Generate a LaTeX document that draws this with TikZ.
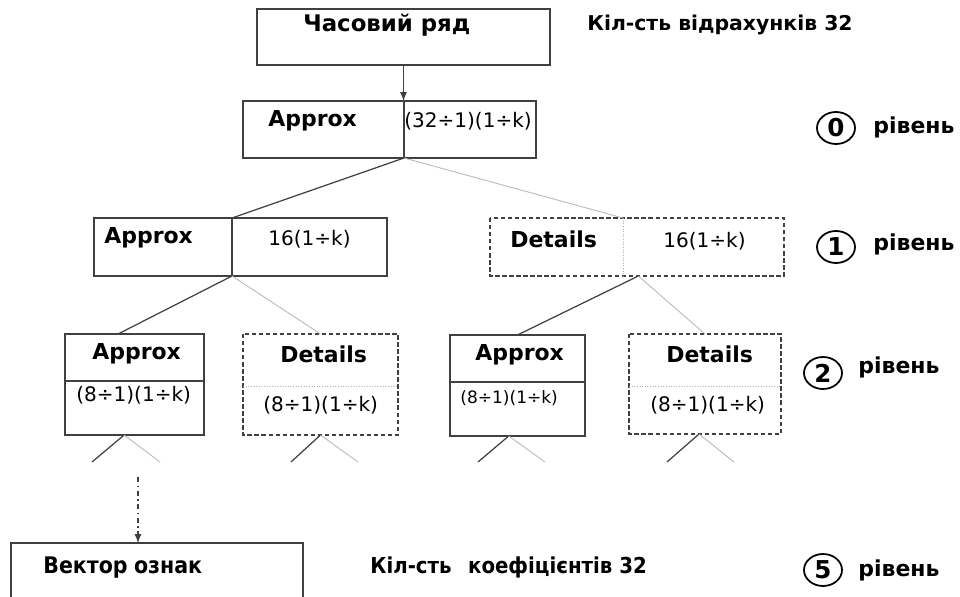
\documentclass[tikz,border=0pt]{standalone}
\usepackage{fontspec}
\setmainfont{DejaVu Sans}
\newfontfamily\narrowfont[FakeStretch=0.9]{DejaVu Sans}
\usetikzlibrary{arrows.meta,shapes.geometric}

\tikzset{
	cell/.style n args={2}{minimum width=#1*0.02cm, minimum height=#2*0.02cm, inner sep=0pt, outer sep=0pt},
	frame/.style={draw=black!75, line width=0.7pt},
	dframe/.style={draw=black!75, line width=0.7pt, dash pattern=on 2.5pt off 1.5pt},
	split/.style={draw=black!30, line width=0.5pt, densely dotted},
	tree/.style={draw=black!75, line width=0.7pt},
	ghost/.style={draw=black!28, line width=0.5pt},
	word/.style={font=\bfseries\fontsize{12.5}{14}\selectfont, inner sep=0pt, anchor=base west},
	narrow/.style={font=\narrowfont\bfseries\fontsize{12.5}{14}\selectfont, inner sep=0pt, anchor=base west},
	coef/.style={font=\fontsize{11.4}{13}\selectfont, inner sep=0pt, anchor=base west},
	lvl/.style={ellipse, draw, line width=1pt, inner sep=0pt, minimum width=38*0.02cm, minimum height=32*0.02cm, font=\bfseries\fontsize{14}{16}\selectfont},
}

\begin{document}
	\begin{tikzpicture}[x=0.02cm,y=-0.02cm]
		
		\clip (0,0) rectangle (960,597);
		
		
		% time series
		\node[cell={293}{56}, anchor=north west, frame] (ts) at (257,9) {};
		\node[word, font=\bfseries\fontsize{13}{15}\selectfont] (tstxt) at (303,32) {Часовий ряд};
		\node[word, font=\bfseries\fontsize{11.6}{14}\selectfont] (ntxt) at (587,31) {Кіл-сть відрахунків 32};
		
		
		% level 0
		\node[cell={161}{57}, anchor=north west] (a0l) at (243,101) {};
		\node[cell={132}{57}, anchor=north west] (a0r) at (a0l.north east) {};
		\draw[frame] (a0l.north west) rectangle (a0r.south east);
		\draw[frame] (a0l.north east) -- (a0l.south east);
		\node[word] (a0txt) at (268,127) {Approx};
		\node[coef] (a0num) at (404,128) {(32÷1)(1÷k)};
		
		\draw[tree,-{Latex[length=5pt,width=4pt]}] (ts.south) -- (ts.south |- a0l.north);
		
		
		% level 1
		\node[cell={138}{58}, anchor=north west] (a1l) at (94,218) {};
		\node[cell={155}{58}, anchor=north west] (a1r) at (a1l.north east) {};
		\draw[frame] (a1l.north west) rectangle (a1r.south east);
		\draw[frame] (a1l.north east) -- (a1l.south east);
		\node[word] (a1txt) at (104,244) {Approx};
		\node[coef] (a1num) at (268,246) {16(1÷k)};
		
		\node[cell={133}{58}, anchor=north west] (d1l) at (490,218) {};
		\node[cell={161}{58}, anchor=north west] (d1r) at (d1l.north east) {};
		\draw[dframe] (d1l.north west) rectangle (d1r.south east);
		\draw[split] (d1l.north east) -- (d1l.south east);
		\node[word] (d1txt) at (510,248) {Details};
		\node[coef] (d1num) at (663,248) {16(1÷k)};
		
		\draw[tree] (a0l.south east) -- (a1l.north east);
		\draw[ghost] (a0l.south east) -- (d1l.north east);
		
		
		% level 2
		\node[cell={139}{47}, anchor=north west] (a2at) at (65,334) {};
		\node[cell={139}{54}, anchor=north west] (a2ab) at (a2at.south west) {};
		\draw[frame] (a2at.north west) rectangle (a2ab.south east);
		\draw[frame] (a2at.south west) -- (a2at.south east);
		\node[word] (a2atxt) at (92,360) {Approx};
		\node[coef] (a2anum) at (76,402) {(8÷1)(1÷k)};
		
		\node[cell={155}{52}, anchor=north west] (d2at) at (243,334) {};
		\node[cell={155}{49}, anchor=north west] (d2ab) at (d2at.south west) {};
		\draw[dframe] (d2at.north west) rectangle (d2ab.south east);
		\draw[split] (d2at.south west) -- (d2at.south east);
		\node[word] (d2atxt) at (280,363) {Details};
		\node[coef] (d2anum) at (263,412) {(8÷1)(1÷k)};
		
		\node[cell={135}{47}, anchor=north west] (a2bt) at (450,335) {};
		\node[cell={135}{54}, anchor=north west] (a2bb) at (a2bt.south west) {};
		\draw[frame] (a2bt.north west) rectangle (a2bb.south east);
		\draw[frame] (a2bt.south west) -- (a2bt.south east);
		\node[word] (a2btxt) at (475,361) {Approx};
		\node[coef, font=\fontsize{9.7}{11}\selectfont] (a2bnum) at (460,404) {(8÷1)(1÷k)};
		
		\node[cell={152}{52}, anchor=north west] (d2bt) at (629,334) {};
		\node[cell={152}{48}, anchor=north west] (d2bb) at (d2bt.south west) {};
		\draw[dframe] (d2bt.north west) rectangle (d2bb.south east);
		\draw[split] (d2bt.south west) -- (d2bt.south east);
		\node[word] (d2btxt) at (666,363) {Details};
		\node[coef] (d2bnum) at (650,412) {(8÷1)(1÷k)};
		
		\draw[tree] (a1l.south east) -- (a2at.125);
		\draw[ghost] (a1l.south east) -- (d2at.north);
		\draw[tree] (d1r.204) -- (a2bt.north);
		\draw[ghost] (d1r.204) -- (d2bt.north);
		
		
		% stubs below level 2
		\coordinate (s1) at (92,462);
		\coordinate (s2) at (160,462);
		\coordinate (s3) at (291,462);
		\coordinate (s4) at (358,462);
		\coordinate (s5) at (478,462);
		\coordinate (s6) at (545,462);
		\coordinate (s7) at (667,462);
		\coordinate (s8) at (734,462);
		
		\draw[tree] (a2ab.249) -- (s1);
		\draw[ghost] (a2ab.249) -- (s2);
		\draw[tree] (d2ab.south) -- (s3);
		\draw[ghost] (d2ab.south) -- (s4);
		\draw[tree] (a2bb.252) -- (s5);
		\draw[ghost] (a2bb.252) -- (s6);
		\draw[tree] (d2bb.256) -- (s7);
		\draw[ghost] (d2bb.256) -- (s8);
		
		
		% level 5
		\node[cell={292}{60}, anchor=north west, frame] (vec) at (11,543) {};
		\node[narrow, font=\narrowfont\bfseries\fontsize{13}{15}\selectfont] (vectxt) at (43,573) {Вектор\hspace{0.28em}ознак};
		\node[narrow] (ctxt) at (370,573) {Кіл-сть\hspace{0.75em}коефіцієнтів 32};
		
		\coordinate (dd) at (138,477);
		\draw[tree,dash dot,-{Latex[length=5pt,width=4pt]}] (dd) -- (dd |- vec.north);
		
		
		% levels
		\node[lvl] (c0) at (836,128) {0};
		\node[lvl] (c1) at (836,247) {1};
		\node[lvl] (c2) at (823,373) {2};
		\node[lvl] (c5) at (823,570) {5};
		\node[word] (r0) at (873,134) {рівень};
		\node[word] (r1) at (873,251) {рівень};
		\node[word] (r2) at (858,374) {рівень};
		\node[word] (r5) at (858,576) {рівень};
		
		
	\end{tikzpicture}
\end{document}
